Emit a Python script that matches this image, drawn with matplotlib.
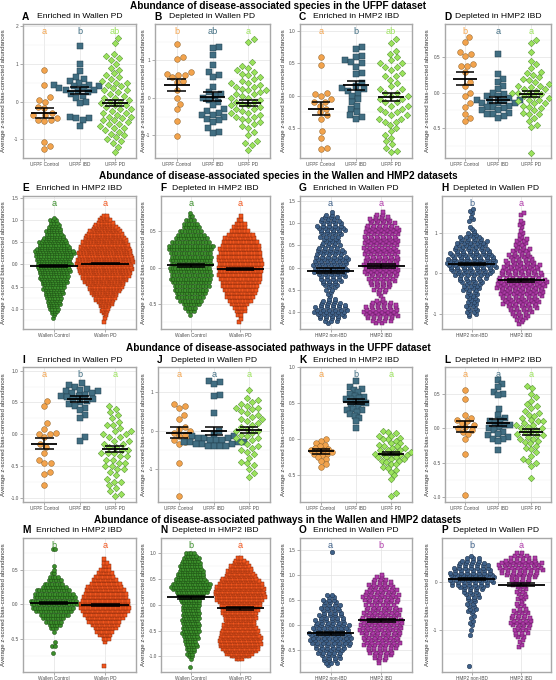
import numpy as np
import matplotlib.pyplot as plt
from matplotlib.transforms import blended_transform_factory

plt.rcParams['font.family'] = ['Liberation Sans', 'DejaVu Sans']

STEP = 0.05  # bin width of the dense (binned) groups

ufpf_groups = ['UFPF Control', 'UFPF IBD', 'UFPF PD']
wallen_groups = ['Wallen Control', 'Wallen PD']
hmp2_groups = ['HMP2 non-IBD', 'HMP2 IBD']

# ---------------- species, UFPF ----------------
a_ctrl = [0.83, 0.45, 0.13, 0.05, 0.0, -0.15, -0.17, -0.3, -0.35, -0.37, -0.45, -0.5, -0.5, -0.52, -1.08, -1.18, -1.27]
a_ibd = [1.48, 1.0, 0.8, 0.65, 0.6, 0.55, 0.5, 0.45, 0.45, 0.42, 0.4, 0.38, 0.35, 0.3, 0.3, 0.28, 0.25, 0.2, 0.15,
         0.1, 0.0, -0.05, -0.4, -0.45, -0.45, -0.5, -0.65]
a_pd = [1.7, 1.55, 1.25, 1.2, 1.15, 1.1, 1.0, 0.9, 0.85, 0.75, 0.7, 0.65, 0.6, 0.55, 0.5, 0.5, 0.45, 0.4, 0.35, 0.3,
        0.3, 0.25, 0.2, 0.15, 0.1, 0.1, 0.05, 0.0, 0.0, -0.05, -0.1, -0.1, -0.15, -0.2, -0.2, -0.25, -0.3, -0.3, -0.35,
        -0.4, -0.4, -0.45, -0.5, -0.5, -0.55, -0.6, -0.6, -0.65, -0.7, -0.7, -0.75, -0.8, -0.85, -0.9, -0.95, -1.0,
        -1.05, -1.1, -1.2, -1.35]
a_mean = [-0.30, 0.29, -0.04]
a_se = [0.13, 0.09, 0.08]

b_ctrl = [1.43, 1.08, 1.03, 0.7, 0.65, 0.62, 0.6, 0.55, 0.45, 0.42, 0.2, 0.0, -0.15, -0.3, -0.62, -1.02]
b_ibd = [1.37, 1.33, 1.15, 0.88, 0.7, 0.6, 0.55, 0.3, 0.15, 0.1, 0.05, 0.0, -0.05, -0.1, -0.2, -0.3, -0.35, -0.4,
         -0.45, -0.45, -0.5, -0.55, -0.6, -0.65, -0.8, -0.9, -0.93]
b_pd = [1.57, 1.5, 0.95, 0.85, 0.8, 0.75, 0.7, 0.65, 0.6, 0.55, 0.5, 0.45, 0.4, 0.4, 0.35, 0.3, 0.3, 0.25, 0.2, 0.2,
        0.15, 0.1, 0.1, 0.05, 0.0, 0.0, -0.05, -0.1, -0.1, -0.15, -0.2, -0.2, -0.25, -0.3, -0.3, -0.35, -0.4, -0.4,
        -0.45, -0.5, -0.5, -0.55, -0.6, -0.65, -0.7, -0.75, -0.8, -0.9, -1.0, -1.15, -1.2, -1.25, -1.4]
b_mean = [0.35, 0.03, -0.13]
b_se = [0.16, 0.12, 0.08]

c_ctrl = [0.6, 0.47, 0.05, 0.03, 0.0, -0.05, -0.1, -0.1, -0.15, -0.2, -0.25, -0.3, -0.35, -0.55, -0.65, -0.8, -0.82]
c_ibd = [0.75, 0.73, 0.62, 0.6, 0.55, 0.52, 0.5, 0.45, 0.35, 0.33, 0.2, 0.15, 0.12, 0.1, 0.08, 0.05, 0.0, -0.05,
         -0.1, -0.15, -0.2, -0.25, -0.3, -0.32, -0.35]
c_pd = [0.88, 0.82, 0.7, 0.65, 0.6, 0.55, 0.5, 0.5, 0.45, 0.45, 0.4, 0.35, 0.3, 0.3, 0.25, 0.2, 0.15, 0.1, 0.1, 0.05,
        0.05, 0.0, 0.0, -0.05, -0.05, -0.1, -0.1, -0.15, -0.15, -0.2, -0.2, -0.25, -0.25, -0.3, -0.3, -0.35, -0.35,
        -0.4, -0.4, -0.45, -0.5, -0.55, -0.6, -0.65, -0.7, -0.75, -0.8, -0.85, -0.87]
c_mean = [-0.20, 0.16, -0.02]
c_se = [0.10, 0.07, 0.06]

d_ctrl = [0.78, 0.72, 0.58, 0.55, 0.52, 0.4, 0.38, 0.38, 0.3, 0.15, 0.1, 0.0, -0.05, -0.15, -0.2, -0.3, -0.35, -0.4]
d_ibd = [0.54, 0.27, 0.2, 0.15, 0.1, 0.05, 0.0, -0.02, -0.05, -0.05, -0.08, -0.1, -0.1, -0.12, -0.12, -0.15, -0.15,
         -0.15, -0.18, -0.2, -0.2, -0.22, -0.25, -0.25, -0.28, -0.3, -0.3, -0.33, -0.35]
d_pd = [0.75, 0.7, 0.57, 0.45, 0.4, 0.35, 0.3, 0.28, 0.25, 0.22, 0.2, 0.18, 0.15, 0.12, 0.1, 0.1, 0.08, 0.05, 0.05,
        0.03, 0.0, 0.0, 0.0, -0.02, -0.05, -0.05, -0.08, -0.1, -0.1, -0.12, -0.15, -0.15, -0.18, -0.2, -0.22, -0.25,
        -0.28, -0.3, -0.3, -0.35, -0.4, -0.45, -0.48, -0.85]
d_mean = [0.20, -0.10, -0.02]
d_se = [0.09, 0.04, 0.04]

# ---------------- species, Wallen / HMP2 (binned: lowest bin, counts per 0.05) ----------------
e_ctrl_lo = -1.20
e_ctrl_n = [1, 1, 2, 3, 4, 4, 5, 5, 5, 6, 6, 7, 7, 8, 8, 9, 10, 10, 11, 11, 11, 12, 12, 12, 13, 12, 13, 13, 14, 15,
            15, 13, 12, 11, 11, 9, 8, 7, 6, 6, 5, 4, 4, 3, 3, 1]
e_pd_lo = -1.30
e_pd_n = [1, 0, 1, 1, 2, 3, 3, 4, 5, 6, 7, 8, 9, 10, 11, 12, 13, 14, 15, 16, 17, 18, 19, 19, 20, 20, 21, 21, 21, 20,
          20, 20, 19, 19, 18, 18, 17, 16, 15, 14, 13, 12, 10, 9, 7, 6, 5, 3, 2]
e_mean = [-0.03, 0.02]
e_se = [0.02, 0.02]

f_ctrl_lo = -0.65
f_ctrl_n = [1, 3, 5, 7, 9, 11, 12, 13, 14, 15, 16, 16, 16, 16, 16, 16, 16, 16, 17, 18, 15, 13, 11, 9, 7, 6, 4, 2, 1]
f_pd_lo = -0.75
f_pd_n = [1, 1, 2, 4, 5, 7, 9, 11, 12, 13, 14, 15, 16, 17, 17, 17, 17, 17, 17, 16, 16, 15, 14, 12, 10, 7, 5, 4, 2, 1]
f_mean = [0.03, -0.02]
f_se = [0.015, 0.01]

g_non_lo = -1.25
g_non_n = [1, 3, 4, 5, 5, 6, 6, 6, 5, 4, 3, 2, 1, 1, 1, 2, 2, 3, 3, 4, 4, 5, 5, 6, 6, 6, 6, 6, 6, 6, 6, 5, 5, 5, 4,
           4, 3, 3, 3, 4, 4, 4, 5, 5, 5, 4, 4, 3, 3, 2, 1]
g_ibd_lo = -1.25
g_ibd_n = [2, 4, 5, 6, 6, 6, 6, 6, 5, 4, 2, 1, 1, 1, 2, 3, 3, 4, 4, 5, 5, 5, 6, 6, 6, 6, 6, 6, 6, 6, 6, 6, 6, 6, 6,
           6, 6, 6, 6, 6, 6, 6, 6, 6, 5, 5, 4, 4, 3, 2, 1]
g_mean = [-0.07, 0.04]
g_se = [0.05, 0.04]

h_non_lo = -1.05
h_non_n = [1, 2, 2, 2, 2, 2, 2, 2, 2, 2, 2, 2, 2, 3, 3, 3, 3, 4, 4, 5, 6, 6, 7, 7, 8, 8, 8, 8, 8, 7, 7, 7, 6, 6, 5,
           5, 5, 5, 4, 4, 2, 2, 1, 1, 1, 0, 0, 1, 1, 1, 0, 1, 1, 1]
h_ibd_lo = -1.25
h_ibd_n = [1, 1, 2, 2, 3, 3, 4, 4, 5, 5, 6, 6, 6, 6, 7, 7, 7, 7, 8, 8, 8, 8, 8, 7, 7, 7, 6, 6, 6, 6, 5, 5, 4, 4, 4,
           3, 3, 3, 2, 2, 2, 2, 2, 1, 1, 1, 1, 0, 1, 1, 1, 1, 0, 0, 1, 1]
h_mean = [0.24, -0.17]
h_se = [0.03, 0.03]

# ---------------- pathways, UFPF ----------------
i_ctrl = [0.53, 0.44, 0.17, 0.08, 0.02, 0.0, 0.0, -0.05, -0.15, -0.2, -0.3, -0.4, -0.45, -0.45, -0.6, -0.63, -0.8]
i_ibd = [0.8, 0.78, 0.75, 0.72, 0.7, 0.68, 0.68, 0.65, 0.65, 0.62, 0.6, 0.6, 0.58, 0.55, 0.55, 0.52, 0.5, 0.48, 0.45,
         0.42, 0.38, 0.3, 0.25, -0.05, -0.1]
i_pd = [0.45, 0.4, 0.35, 0.3, 0.25, 0.2, 0.15, 0.15, 0.1, 0.05, 0.05, 0.0, 0.0, -0.05, -0.05, -0.1, -0.1, -0.15,
        -0.15, -0.2, -0.2, -0.25, -0.25, -0.3, -0.3, -0.3, -0.35, -0.35, -0.4, -0.4, -0.45, -0.45, -0.5, -0.5, -0.55,
        -0.55, -0.6, -0.65, -0.7, -0.75, -0.75, -0.8, -0.85, -0.9, -0.95, -0.97]
i_mean = [-0.15, 0.56, -0.23]
i_se = [0.09, 0.05, 0.05]

j_ctrl = [0.68, 0.65, 0.6, 0.4, 0.3, 0.1, 0.05, 0.0, -0.05, -0.1, -0.15, -0.2, -0.25, -0.3, -0.35, -0.83, -1.7]
j_ibd = [1.3, 1.25, 1.2, 0.92, 0.9, 0.45, 0.0, -0.1, -0.15, -0.15, -0.2, -0.2, -0.2, -0.25, -0.25, -0.25, -0.3, -0.3,
         -0.3, -0.3, -0.35, -0.35, -0.35, -0.4, -0.4, -0.4, -0.4]
j_pd = [1.05, 0.85, 0.8, 0.75, 0.7, 0.65, 0.6, 0.6, 0.55, 0.5, 0.45, 0.4, 0.35, 0.3, 0.3, 0.25, 0.2, 0.15, 0.1, 0.05,
        0.0, 0.0, -0.05, -0.1, -0.15, -0.2, -0.2, -0.25, -0.3, -0.35, -0.4, -0.45, -0.5, -0.55, -0.6, -0.7, -0.8,
        -0.85, -0.9, -1.0, -1.1, -1.2]
j_mean = [-0.05, 0.00, 0.01]
j_se = [0.15, 0.10, 0.08]

k_ctrl = [0.0, -0.02, -0.05, -0.08, -0.1, -0.12, -0.13, -0.15, -0.15, -0.17, -0.18, -0.2, -0.2, -0.22, -0.25, -0.27,
          -0.3, -0.35, -0.38]
k_ibd = [0.8, 0.72, 0.7, 0.68, 0.65, 0.62, 0.6, 0.58, 0.57, 0.55, 0.55, 0.52, 0.5, 0.5, 0.48, 0.45, 0.42, 0.4, 0.4,
         0.38, 0.35, 0.32, 0.3, 0.25, 0.15]
k_pd = [0.12, 0.1, 0.08, 0.05, 0.05, 0.02, 0.0, 0.0, -0.02, -0.05, -0.05, -0.08, -0.1, -0.1, -0.12, -0.12, -0.15,
        -0.15, -0.15, -0.18, -0.18, -0.2, -0.2, -0.2, -0.22, -0.22, -0.25, -0.25, -0.25, -0.28, -0.28, -0.3, -0.3,
        -0.32, -0.35, -0.35, -0.38, -0.4, -0.42, -0.45, -0.5, -0.55, -0.75, -0.78]
k_mean = [-0.17, 0.52, -0.20]
k_se = [0.03, 0.03, 0.02]

l_ctrl = [0.55, 0.43, 0.2, 0.15, 0.12, 0.1, 0.08, 0.05, 0.02, 0.0, -0.02, -0.05, -0.08, -0.15, -0.38, -0.97]
l_ibd = [0.7, 0.65, 0.6, 0.53, 0.5, 0.48, 0.28, 0.2, 0.15, 0.12, 0.1, 0.08, 0.05, 0.05, 0.02, 0.0, -0.02, -0.05,
         -0.08, -0.1, -0.12, -0.15, -0.15, -0.18, -0.32]
l_pd = [0.62, 0.58, 0.5, 0.45, 0.4, 0.35, 0.32, 0.3, 0.25, 0.22, 0.2, 0.18, 0.15, 0.12, 0.1, 0.1, 0.08, 0.05, 0.05,
        0.02, 0.0, 0.0, -0.02, -0.05, -0.05, -0.08, -0.1, -0.1, -0.12, -0.15, -0.15, -0.18, -0.2, -0.22, -0.25, -0.28,
        -0.3, -0.35, -0.4, -0.45, -0.48, -0.5, -0.55, -0.72]
l_mean = [0.02, 0.08, -0.05]
l_se = [0.08, 0.05, 0.04]

# ---------------- pathways, Wallen / HMP2 (binned) ----------------
m_ctrl_lo = -0.70
m_ctrl_n = [1, 0, 2, 1, 0, 0, 1, 3, 5, 7, 9, 12, 15, 17, 19, 19, 17, 16, 14, 10, 8, 6, 4, 2, 1, 1, 0, 0, 0, 0, 2]
m_pd_lo = -0.90
m_pd_n = [1, 0, 0, 0, 0, 0, 0, 1, 3, 5, 7, 9, 11, 13, 15, 17, 19, 20, 20, 19, 18, 17, 16, 14, 12, 10, 8, 6, 4, 3, 2, 1]
m_mean = [0.02, -0.01]
m_se = [0.01, 0.01]

n_ctrl_lo = -1.20
n_ctrl_n = [1, 0, 0, 1, 2, 3, 3, 4, 5, 5, 5, 6, 6, 7, 7, 7, 7, 7, 7, 7, 7, 7, 7, 7, 7, 8, 8, 10, 11, 13, 15, 16, 16,
            13, 12, 11, 11, 10, 9, 9, 8, 7, 7, 5, 4]
n_pd_lo = -1.05
n_pd_n = [3, 8, 11, 13, 15, 16, 17, 17, 17, 16, 15, 15, 14, 13, 12, 12, 13, 13, 14, 15, 15, 16, 17, 19, 20, 20, 20,
          20, 19, 18, 16, 14, 12, 11, 10, 9, 8, 6, 4, 2]
n_mean = [0.14, -0.07]
n_se = [0.03, 0.025]

o_non_lo = -0.80
o_non_n = [1, 3, 3, 4, 4, 5, 5, 6, 7, 8, 8, 8, 8, 8, 7, 7, 7, 6, 6, 5, 5, 4, 4, 4, 4, 3, 3, 2, 2, 0, 0, 0, 0, 0, 0,
           0, 0, 0, 0, 0, 0, 0, 0, 0, 0, 1]
o_ibd_lo = -0.75
o_ibd_n = [1, 2, 3, 4, 5, 5, 6, 7, 7, 7, 7, 7, 8, 8, 8, 8, 8, 8, 7, 7, 7, 7, 6, 6, 6, 7, 7, 7, 6, 6, 5, 5, 4, 3, 2, 1]
o_mean = [-0.16, 0.10]
o_se = [0.03, 0.03]

p_non_lo = -1.75
p_non_n = [1, 0, 0, 0, 0, 0, 0, 0, 0, 0, 0, 0, 0, 1, 0, 1, 0, 1, 1, 1, 1, 1, 1, 2, 2, 2, 2, 2, 2, 3, 3, 3, 4, 5, 7,
           8, 8, 8, 8, 8, 7, 7, 6, 5, 4, 3, 1]
p_ibd_lo = -1.35
p_ibd_n = [1, 1, 1, 1, 2, 2, 3, 3, 3, 4, 4, 4, 4, 3, 3, 3, 2, 2, 2, 1, 2, 2, 2, 2, 2, 2, 3, 3, 4, 5, 6, 7, 8, 8, 8,
           8, 6, 5, 3, 2]
p_mean = [0.07, -0.05]
p_se = [0.02, 0.035]

# ---------------- styles ----------------
STYLE = {
    'UFPF Control': dict(fc='#F2A34D', ec='#8F6026', marker='o', s=17),
    'UFPF IBD': dict(fc='#416E82', ec='#22404E', marker='s', s=14),
    'UFPF PD': dict(fc='#9BE35C', ec='#4E8B2B', marker='D', s=11),
    'Wallen Control': dict(fc='#3B8E2B', ec='#1B4A12', marker='o', s=8.5),
    'Wallen PD': dict(fc='#F2561E', ec='#86290A', marker='s', s=8),
    'HMP2 non-IBD': dict(fc='#3F6189', ec='#1D3049', marker='o', s=10.5),
    'HMP2 IBD': dict(fc='#B03CAA', ec='#5A1656', marker='s', s=9.5),
}

W, H = 556, 680
col_left = [[23, 155, 300, 445], [23, 161, 300, 442], [23, 158, 300, 445], [23, 161, 300, 442]]
col_right = [136, 270, 412, 551]
ylab_x = [4, 144, 283, 427]
rows = [(24, 158), (196, 329), (367, 502), (538, 672)]
sec_y = [6, 176, 348, 520]
ttl_y = [17, 188, 360, 530]
sections = ['Abundance of disease-associated species in the UFPF dataset',
            'Abundance of disease-associated species in the Wallen and HMP2 datasets',
            'Abundance of disease-associated pathways in the UFPF dataset',
            'Abundance of disease-associated pathways in the Wallen and HMP2 datasets']

# letter, title, groups, data, mean, se, group letters, ylim, yticks, decimals, swarm spacing (px)
panels = [
    ('A', 'Enriched in Wallen PD', ufpf_groups, [a_ctrl, a_ibd, a_pd], a_mean, a_se, ['a', 'b', 'ab'], (-1.5, 2.06), [-1, 0, 1, 2], 0, 6.5),
    ('B', 'Depleted in Wallen PD', ufpf_groups, [b_ctrl, b_ibd, b_pd], b_mean, b_se, ['b', 'ab', 'a'], (-1.6, 1.97), [-1, 0, 1], 0, 6.5),
    ('C', 'Enriched in HMP2 IBD', ufpf_groups, [c_ctrl, c_ibd, c_pd], c_mean, c_se, ['a', 'b', 'ab'], (-0.96, 1.11), [-0.5, 0, 0.5, 1.0], 1, 6.5),
    ('D', 'Depleted in HMP2 IBD', ufpf_groups, [d_ctrl, d_ibd, d_pd], d_mean, d_se, ['b', 'a', 'a'], (-0.92, 0.97), [-0.5, 0, 0.5], 1, 6.2),
    ('E', 'Enriched in HMP2 IBD', wallen_groups, [(e_ctrl_lo, e_ctrl_n), (e_pd_lo, e_pd_n)], e_mean, e_se, ['a', 'a'], (-1.46, 1.55), [-1, -0.5, 0, 0.5, 1, 1.5], 1, 2.7),
    ('F', 'Depleted in HMP2 IBD', wallen_groups, [(f_ctrl_lo, f_ctrl_n), (f_pd_lo, f_pd_n)], f_mean, f_se, ['a', 'a'], (-0.84, 0.98), [-0.5, 0, 0.5], 1, 2.6),
    ('G', 'Enriched in Wallen PD', hmp2_groups, [(g_non_lo, g_non_n), (g_ibd_lo, g_ibd_n)], g_mean, g_se, ['a', 'a'], (-1.39, 1.62), [-1, -0.5, 0, 0.5, 1, 1.5], 1, 6.0),
    ('H', 'Depleted in Wallen PD', hmp2_groups, [(h_non_lo, h_non_n), (h_ibd_lo, h_ibd_n)], h_mean, h_se, ['b', 'a'], (-1.37, 1.91), [-1, 0, 1], 0, 6.5),
    ('I', 'Enriched in Wallen PD', ufpf_groups, [i_ctrl, i_ibd, i_pd], i_mean, i_se, ['a', 'b', 'a'], (-1.07, 1.06), [-1, -0.5, 0, 0.5, 1], 1, 6.5),
    ('J', 'Depleted in Wallen PD', ufpf_groups, [j_ctrl, j_ibd, j_pd], j_mean, j_se, ['a', 'a', 'a'], (-1.85, 1.65), [-1, 0, 1], 0, 6.2),
    ('K', 'Enriched in HMP2 IBD', ufpf_groups, [k_ctrl, k_ibd, k_pd], k_mean, k_se, ['a', 'b', 'a'], (-0.87, 1.0), [-0.5, 0, 0.5, 1.0], 1, 5.0),
    ('L', 'Depleted in HMP2 IBD', ufpf_groups, [l_ctrl, l_ibd, l_pd], l_mean, l_se, ['a', 'a', 'a'], (-1.07, 0.89), [-1, -0.5, 0, 0.5], 1, 5.6),
    ('M', 'Enriched in HMP2 IBD', wallen_groups, [(m_ctrl_lo, m_ctrl_n), (m_pd_lo, m_pd_n)], m_mean, m_se, ['b', 'a'], (-0.98, 0.96), [-0.5, 0, 0.5], 1, 2.5),
    ('N', 'Depleted in HMP2 IBD', wallen_groups, [(n_ctrl_lo, n_ctrl_n), (n_pd_lo, n_pd_n)], n_mean, n_se, ['b', 'a'], (-1.3, 1.29), [-1, -0.5, 0, 0.5, 1], 1, 2.5),
    ('O', 'Enriched in Wallen PD', hmp2_groups, [(o_non_lo, o_non_n), (o_ibd_lo, o_ibd_n)], o_mean, o_se, ['a', 'b'], (-0.93, 1.73), [-0.5, 0, 0.5, 1, 1.5], 1, 5.5),
    ('P', 'Depleted in Wallen PD', hmp2_groups, [(p_non_lo, p_non_n), (p_ibd_lo, p_ibd_n)], p_mean, p_se, ['b', 'a'], (-1.87, 0.92), [-1, 0], 0, 5.8),
]


def swarm_px(ypx, d):
    # simple beeswarm: put each point as close to the centre as it can go
    xs = np.zeros(len(ypx))
    px_x = np.empty(0)
    px_y = np.empty(0)
    for i in np.argsort(ypx, kind='stable'):
        y0 = ypx[i]
        near = np.abs(px_y - y0) < d
        nx = px_x[near]
        ny = px_y[near] - y0
        x = 0.0
        if len(nx):
            w = np.sqrt(d * d - ny * ny)
            cand = np.concatenate([[0.0], nx + w, nx - w])
            cand = cand[np.argsort(np.abs(cand), kind='stable')]
            ok = ((cand[:, None] - nx[None, :]) ** 2 + ny[None, :] ** 2 >= d * d - 1e-6).all(axis=1)
            x = cand[np.argmax(ok)]
        xs[i] = x
        px_x = np.append(px_x, x)
        px_y = np.append(px_y, y0)
    return xs


def rows_px(counts, sp):
    # dense groups: one row of points per bin, rows shifted so no columns show
    xs = []
    for j, n in enumerate(counts):
        shift = sp * (((j * 0.618) % 1.0) - 0.5) * 0.8
        xs.extend((np.arange(n) - (n - 1) / 2) * sp + shift)
    return np.array(xs)


fig = plt.figure(figsize=(W / 100, H / 100), dpi=100)

for r, txt in enumerate(sections):
    fig.text(278 / W, 1 - sec_y[r] / H, txt, ha='center', va='center', fontsize=7.2, fontweight='bold')

for k, (let, title, groups, data, mean, se, glet, ylim, yticks, dec, sp) in enumerate(panels):
    r, c = divmod(k, 4)
    x0, x1 = col_left[r][c], col_right[c]
    y0, y1 = rows[r]
    ax = fig.add_axes([x0 / W, 1 - y1 / H, (x1 - x0) / W, (y1 - y0) / H])
    ng = len(groups)
    ax.set_xlim(0.4, ng + 0.6)
    ax.set_ylim(*ylim)
    ppx = (x1 - x0) / (ng + 0.2)
    ppy = (y1 - y0) / (ylim[1] - ylim[0])
    tr = blended_transform_factory(ax.transData, ax.transAxes)

    for g, name in enumerate(groups):
        st = STYLE[name]
        if isinstance(data[g], tuple):
            lo, cnt = data[g]
            yv = np.repeat(lo + STEP * np.arange(len(cnt)), cnt)
            xo = rows_px(cnt, sp)
        else:
            yv = np.array(data[g], dtype=float)
            xo = swarm_px((yv - ylim[0]) * ppy, sp)
        ax.scatter(g + 1 + xo / ppx, yv, s=st['s'], marker=st['marker'], c=st['fc'],
                   edgecolors=st['ec'], linewidths=0.35, zorder=3)

        hw = 0.36 if ng == 3 else 0.47
        cw = 0.27 if ng == 3 else 0.28
        ax.hlines(mean[g], g + 1 - hw, g + 1 + hw, color='black', lw=1.3, zorder=5)
        ax.hlines([mean[g] - se[g], mean[g] + se[g]], g + 1 - cw, g + 1 + cw, color='black', lw=1.1, zorder=5)
        ax.vlines(g + 1, mean[g] - se[g], mean[g] + se[g], color='black', lw=1.1, zorder=5)

        ax.text(g + 1, 0.945, glet[g], transform=tr, ha='center', va='center',
                fontsize=6.6, color=st['fc'], zorder=6)

    # axes look (theme_light like)
    ax.set_yticks(yticks)
    ax.set_yticklabels([f'{t:.{dec}f}' for t in yticks])
    step = yticks[1] - yticks[0]
    minor = np.arange(yticks[0] - step / 2, ylim[1], step)
    ax.set_yticks(minor[minor > ylim[0]], minor=True)
    ax.set_xticks(range(1, ng + 1))
    ax.set_xticklabels(groups, fontsize=3.4)
    ax.grid(True, which='major', color='#E3E3E3', lw=0.5, zorder=0)
    ax.grid(True, which='minor', axis='y', color='#F0F0F0', lw=0.35, zorder=0)
    ax.set_axisbelow(True)
    ax.tick_params(axis='both', which='major', length=2, width=0.5, color='#8C8C8C',
                   labelsize=3.4, labelcolor='#4D4D4D', pad=1.2)
    ax.tick_params(axis='y', which='minor', length=0)
    for sp_ in ax.spines.values():
        sp_.set_color('#A8A8A8')
        sp_.set_linewidth(1.0)

    fig.text(ylab_x[c] / W, 1 - (y0 + y1) / 2 / H, 'Average z-scored bias-corrected abundances',
             rotation=90, ha='center', va='center', fontsize=4.4, color='#333333')
    fig.text((x0 - 1) / W, 1 - ttl_y[r] / H, let, ha='left', va='center', fontsize=7.3, fontweight='bold')
    fig.text((x0 + x1) / 2 / W, 1 - ttl_y[r] / H, title, ha='center', va='center', fontsize=6.1)

fig.savefig('out.png', dpi=100)
